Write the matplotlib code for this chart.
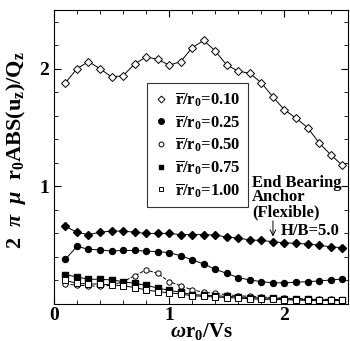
import matplotlib
matplotlib.use("Agg")
import matplotlib.pyplot as plt
from matplotlib.lines import Line2D
from matplotlib.ticker import MultipleLocator

plt.rcParams['font.family'] = 'Liberation Serif'
plt.rcParams['font.weight'] = 'bold'
plt.rcParams['mathtext.fontset'] = 'custom'
plt.rcParams['mathtext.rm'] = 'Liberation Serif:bold'
plt.rcParams['mathtext.bf'] = 'Liberation Serif:bold'
plt.rcParams['mathtext.it'] = 'Liberation Serif:italic:bold'

# frequency omega*r0/Vs
freq = [0.1, 0.2, 0.3, 0.4, 0.5, 0.6, 0.7, 0.8, 0.9, 1.0, 1.1, 1.2, 1.3,
        1.4, 1.5, 1.6, 1.7, 1.8, 1.9, 2.0, 2.1, 2.2, 2.3, 2.4, 2.5]

r010 = [1.88, 2.00, 2.06, 2.00, 1.93, 1.94, 2.04, 2.10, 2.08, 2.03, 2.06, 2.18, 2.24,
        2.15, 2.03, 1.98, 1.96, 1.88, 1.76, 1.65, 1.58, 1.50, 1.37, 1.27, 1.18]
upper = [0.66, 0.61, 0.59, 0.61, 0.62, 0.62, 0.61, 0.60, 0.60, 0.60, 0.59, 0.59, 0.59,
         0.585, 0.57, 0.56, 0.545, 0.54, 0.53, 0.52, 0.515, 0.51, 0.50, 0.485, 0.48]
r025 = [0.38, 0.49, 0.465, 0.46, 0.45, 0.455, 0.455, 0.45, 0.445, 0.437, 0.41, 0.375, 0.34,
        0.295, 0.26, 0.224, 0.204, 0.19, 0.18, 0.18, 0.185, 0.19, 0.196, 0.204, 0.213]
r050 = [0.17, 0.16, 0.155, 0.15, 0.16, 0.19, 0.24, 0.29, 0.26, 0.19, 0.155, 0.12, 0.10,
        0.09, 0.08, 0.07, 0.065, 0.06, 0.055, 0.05, 0.045, 0.045, 0.04, 0.04, 0.035]
r075 = [0.25, 0.23, 0.21, 0.21, 0.205, 0.19, 0.175, 0.16, 0.135, 0.117, 0.10, 0.08, 0.075,
        0.07, 0.065, 0.06, 0.055, 0.05, 0.05, 0.045, 0.04, 0.04, 0.035, 0.035, 0.03]
r100 = [0.20, 0.176, 0.17, 0.17, 0.162, 0.155, 0.14, 0.12, 0.105, 0.095, 0.085, 0.07, 0.065,
        0.06, 0.055, 0.05, 0.045, 0.04, 0.04, 0.035, 0.035, 0.03, 0.03, 0.03, 0.03]

labels = ['0.10', '0.25', '0.50', '0.75', '1.00']

fig = plt.figure(figsize=(3.5, 3.41), dpi=100)
ax = fig.add_axes([0.154, 0.1085, 0.84, 0.8625])

lw = 0.7
ax.plot(freq, r010, '-', color='black', lw=lw, marker='D', ms=3.8, mfc='white', mec='black', mew=0.7)
ax.plot(freq, upper, '-', color='black', lw=lw, marker='D', ms=4.3, mfc='black', mec='black')
ax.plot(freq, r025, '-', color='black', lw=lw, marker='o', ms=4.3, mfc='black', mec='black')
ax.plot(freq, r050, '--', color='black', lw=lw, marker='o', ms=3.8, mfc='white', mec='black', mew=0.7)
ax.plot(freq, r075, '-', color='black', lw=lw, marker='s', ms=3.8, mfc='black', mec='black')
ax.plot(freq, r100, '-', color='black', lw=lw, marker='s', ms=3.8, mfc='white', mec='black', mew=0.7)

ax.set_xlim(0, 2.55)
ax.set_ylim(0, 2.5)
ax.xaxis.set_major_locator(MultipleLocator(1))
ax.xaxis.set_minor_locator(MultipleLocator(0.2))
ax.set_yticks([1, 2])
ax.yaxis.set_minor_locator(MultipleLocator(0.2))
ax.tick_params(which='both', direction='in', top=True, right=True, labelsize=14)
ax.tick_params(which='major', length=5)
ax.tick_params(which='minor', length=3)
ax.tick_params(axis='x', pad=2)
for sp in ax.spines.values():
    sp.set_linewidth(0.8)

# axis titles placed as figure text
fig.text(0.575, 0.013, r'$\it{\omega}$r$_\mathbf{0}$/Vs', fontsize=15,
         ha='center', va='baseline')
fig.text(0.045, 0.56,
         r'2  $\it{\pi}$  $\it{\mu}$  r$_\mathbf{0}$ABS(u$_\mathbf{z}$)/Q$_\mathbf{z}$',
         fontsize=16, rotation=90, ha='center', va='center')

handles = [
    Line2D([], [], ls='none', marker='D', ms=3.5, mfc='white', mec='black', mew=0.7),
    Line2D([], [], ls='none', marker='o', ms=4, mfc='black', mec='black'),
    Line2D([], [], ls='none', marker='o', ms=3.5, mfc='white', mec='black', mew=0.7),
    Line2D([], [], ls='none', marker='s', ms=3.5, mfc='black', mec='black'),
    Line2D([], [], ls='none', marker='s', ms=3.5, mfc='white', mec='black', mew=0.7),
]
leg_labels = [r'$\overline{\mathbf{r}}$/r$_\mathbf{0}$=' + s for s in labels]
leg = ax.legend(handles, leg_labels, loc='upper left', bbox_to_anchor=(0.316, 0.752),
                fontsize=12, frameon=True, fancybox=False, edgecolor='black',
                handlelength=0.8, handletextpad=0.45, labelspacing=0.25,
                borderpad=0.45, borderaxespad=0)
leg.get_frame().set_linewidth(0.8)

ax.text(1.72, 1.10, 'End Bearing\nAnchor\n(Flexible)', fontsize=12, ha='left', va='top',
        linespacing=0.9)
ax.text(1.97, 0.62, 'H/B=5.0', fontsize=12, ha='left', va='center')
ax.annotate('', xy=(1.9, 0.55), xytext=(1.9, 0.73),
            arrowprops=dict(arrowstyle='->', color='black', lw=0.7))

fig.savefig('out.png', dpi=100)
